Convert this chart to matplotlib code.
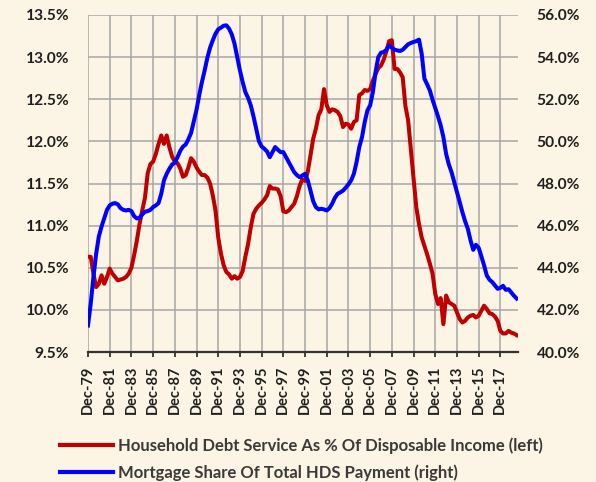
import numpy as np
import pandas as pd
import matplotlib
matplotlib.use("Agg")
import matplotlib.pyplot as plt
from matplotlib.ticker import FuncFormatter, MultipleLocator

plt.rcParams['font.family'] = ['Lato', 'DejaVu Sans']

# quarterly, Dec-79 .. Jun-19
dates = pd.date_range('1979-12-31', periods=159, freq='QE')

# household debt service as % of disposable income (left axis)
hds = [10.63, 10.63, 10.43, 10.27, 10.31, 10.41, 10.31, 10.39, 10.49, 10.43,
       10.39, 10.35, 10.36, 10.37, 10.39, 10.43, 10.50, 10.65, 10.82, 11.02,
       11.18, 11.33, 11.62, 11.73, 11.76, 11.85, 11.97, 12.07, 11.97, 12.07,
       11.93, 11.82, 11.76, 11.74, 11.68, 11.58, 11.60, 11.69, 11.80, 11.76,
       11.69, 11.64, 11.60, 11.60, 11.57, 11.50, 11.36, 11.18, 10.86, 10.67,
       10.53, 10.45, 10.42, 10.37, 10.40, 10.37, 10.39, 10.46, 10.63, 10.78,
       10.98, 11.14, 11.20, 11.24, 11.27, 11.31, 11.36, 11.47, 11.44, 11.44,
       11.43, 11.35, 11.17, 11.16, 11.18, 11.22, 11.26, 11.35, 11.47, 11.55,
       11.53, 11.64, 11.83, 12.03, 12.15, 12.31, 12.38, 12.62, 12.43, 12.35,
       12.38, 12.37, 12.35, 12.30, 12.17, 12.21, 12.20, 12.15, 12.23, 12.25,
       12.55, 12.57, 12.61, 12.60, 12.62, 12.72, 12.80, 12.87, 12.90, 12.97,
       13.07, 13.19, 13.20, 12.86, 12.86, 12.82, 12.76, 12.42, 12.25, 11.91,
       11.58, 11.22, 11.02, 10.86, 10.76, 10.66, 10.55, 10.43, 10.19, 10.07,
       10.14, 9.83, 10.17, 10.09, 10.07, 10.05, 9.97, 9.89, 9.85, 9.87,
       9.91, 9.93, 9.94, 9.91, 9.93, 9.99, 10.05, 10.01, 9.96, 9.95,
       9.92, 9.87, 9.75, 9.72, 9.72, 9.75, 9.73, 9.72, 9.70]

# mortgage share of total HDS payment (right axis)
mortgage = [41.26, 42.29, 43.55, 44.66, 45.49, 45.96, 46.36, 46.75, 46.96, 47.04,
            47.07, 47.01, 46.83, 46.75, 46.72, 46.75, 46.69, 46.45, 46.34, 46.37,
            46.53, 46.66, 46.69, 46.75, 46.88, 46.96, 47.07, 47.51, 48.15, 48.46,
            48.70, 48.90, 49.00, 49.25, 49.55, 49.75, 49.85, 50.10, 50.40, 50.95,
            51.50, 52.20, 52.82, 53.37, 53.97, 54.45, 54.80, 55.11, 55.32, 55.40,
            55.49, 55.51, 55.35, 55.08, 54.64, 54.00, 53.37, 52.82, 52.34, 52.07,
            51.71, 51.19, 50.60, 50.01, 49.76, 49.65, 49.52, 49.25, 49.49, 49.73,
            49.60, 49.49, 49.49, 49.25, 49.02, 48.78, 48.54, 48.40, 48.30, 48.38,
            48.46, 48.15, 47.67, 47.16, 46.88, 46.77, 46.80, 46.77, 46.72, 46.83,
            47.04, 47.32, 47.51, 47.58, 47.66, 47.80, 47.96, 48.15, 48.46, 49.02,
            49.73, 50.20, 50.92, 51.47, 51.71, 52.34, 53.29, 54.00, 54.21, 54.24,
            54.35, 54.56, 54.45, 54.35, 54.32, 54.29, 54.35, 54.48, 54.61, 54.67,
            54.72, 54.76, 54.83, 54.16, 52.98, 52.71, 52.42, 51.98, 51.58, 51.19,
            50.76, 50.20, 49.41, 48.91, 48.54, 48.07, 47.59, 47.12, 46.64, 46.21,
            45.85, 45.30, 44.85, 45.09, 44.95, 44.54, 44.11, 43.63, 43.43, 43.32,
            43.16, 43.00, 43.05, 43.14, 42.95, 42.98, 42.83, 42.67, 42.54]

label_hds = 'Household Debt Service As % Of Disposable Income (left)'
label_mort = 'Mortgage Share Of Total HDS Payment (right)'

bg = '#FCF4E4'
red = '#C00000'
blue = '#0000FF'
grid_c = '#A6A6A6'
txt = '#1F1F1F'

x = np.arange(len(dates))
tick_pos = x[::8]
tick_lab = [d.strftime('%b-%y') for d in dates[::8]]

fig = plt.figure(figsize=(5.96, 4.82), dpi=100, facecolor=bg)
ax = fig.add_axes([88/596, 1 - 352/482, 430/596, 337/482])
ax.set_facecolor(bg)
ax2 = ax.twinx()
ax2.patch.set_visible(False)

ax.plot(x, hds, color=red, lw=2.9, solid_joinstyle='round')
ax2.plot(x, mortgage, color=blue, lw=2.9, solid_joinstyle='round')

ax.set_xlim(0, 158.5)
ax.set_ylim(9.5, 13.5)
ax2.set_ylim(40, 56)
ax.yaxis.set_major_locator(MultipleLocator(0.5))
ax2.yaxis.set_major_locator(MultipleLocator(2))
ax.yaxis.set_major_formatter(FuncFormatter(lambda v, p: f'{v:.1f}%'))
ax2.yaxis.set_major_formatter(FuncFormatter(lambda v, p: f'{v:.1f}%'))

ax.set_xticks(tick_pos)
ax.set_xticklabels(tick_lab, rotation=90)
ax.grid(True, color=grid_c, lw=1.1)
ax.set_axisbelow(True)

for a in (ax, ax2):
    for s in a.spines.values():
        s.set_visible(False)
ax.spines['bottom'].set_visible(True)
ax.spines['bottom'].set_color('#333333')
ax.spines['bottom'].set_linewidth(1.6)
ax.spines['bottom'].set_zorder(5)

ax.tick_params(axis='x', length=3.6, width=1.3, color='#333333', pad=6,
               labelsize=10.5, labelcolor=txt)
ax.tick_params(axis='y', length=0, pad=13.5, labelsize=11.2, labelcolor=txt)
ax2.tick_params(axis='y', length=0, pad=13.5, labelsize=11.2, labelcolor=txt)
for lab in ax.get_xticklabels() + ax.get_yticklabels() + ax2.get_yticklabels():
    lab.set_fontweight('bold')

h1, = ax.plot([], [], color=red, lw=3)
h2, = ax.plot([], [], color=blue, lw=3)
fig.legend([h1, h2], [label_hds, label_mort], loc='upper left',
           bbox_to_anchor=(50/596, 1 - 427/482), frameon=False,
           handlelength=3.2, handletextpad=0.3, labelspacing=0.65,
           borderaxespad=0.2, prop={'size': 12.0, 'weight': 'bold'},
           labelcolor='#3A3A3A')

fig.savefig('out.png', dpi=100, facecolor=bg)
